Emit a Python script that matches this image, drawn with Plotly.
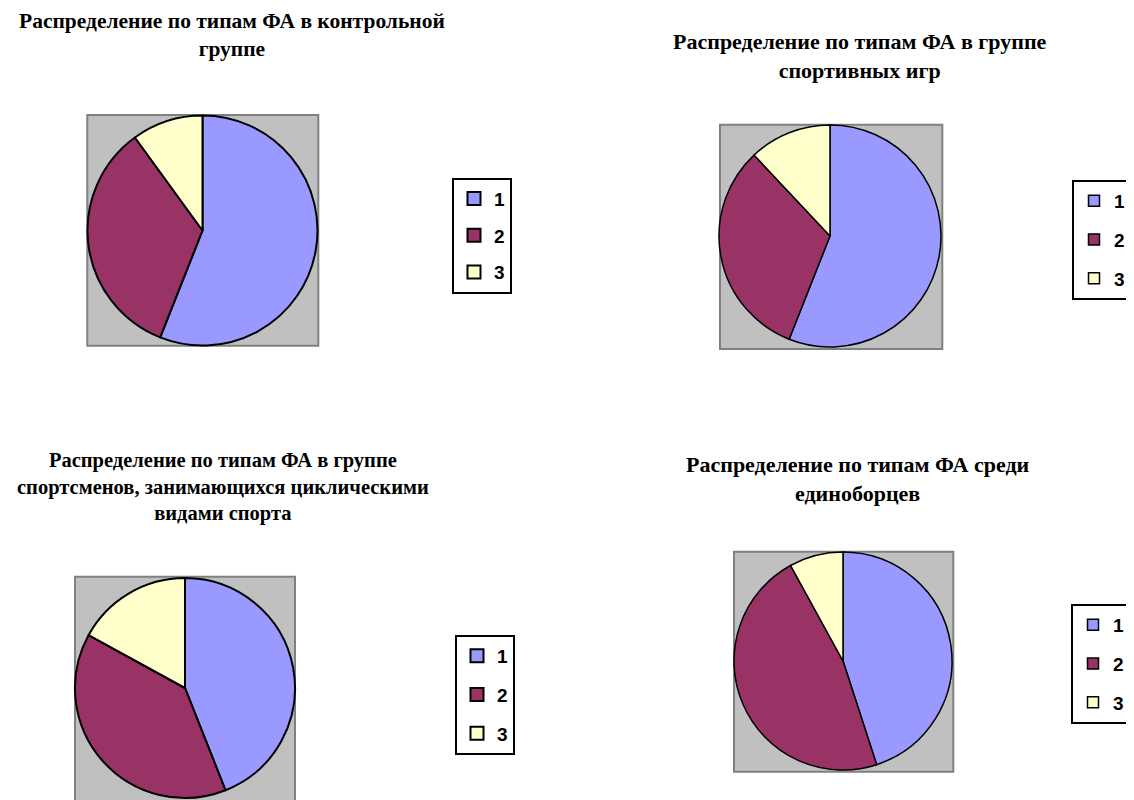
import plotly.graph_objects as go

W, H = 1134, 800
OFF = 8  # page body margin: screen px = layout px + OFF

labels = ["1", "2", "3"]
colors = ["#9999FF", "#993366", "#FFFFCC"]

title_control = "Распределение по типам ФА в контрольной<br>группе"
title_games = "Распределение по типам ФА в группе<br>спортивных игр"
title_cyclic = "Распределение по типам ФА в группе<br>спортсменов, занимающихся циклическими<br>видами спорта"
title_combat = "Распределение по типам ФА среди<br>единоборцев"

values_control = [56, 34, 10]
values_games = [56, 32, 12]
values_cyclic = [44, 39, 17]
values_combat = [45, 47, 8]

# layout in screen pixels: pie box, grey square, legend top-left, title centre/baseline
panels = [
    dict(title=title_control, vals=values_control, leg="legend", lw=2, tfs=21.5,
         pie=(87.5, 317.5, 115.5, 345.5), sq=(87.3, 318.3, 115, 345.7),
         legpos=(452, 177.7), gap=9, msz=13, mlw=2, tpos=(232, 29)),
    dict(title=title_games, vals=values_games, leg="legend2", lw=1.5, tfs=22,
         pie=(719, 941, 125, 347), sq=(720, 942.3, 124.7, 349),
         legpos=(1072, 180), gap=11, msz=11, mlw=1.5, tpos=(860, 49)),
    dict(title=title_cyclic, vals=values_cyclic, leg="legend3", lw=2, tfs=20.5,
         pie=(75, 295, 578, 798), sq=(75, 295, 576.7, 806),
         legpos=(455, 635), gap=11, msz=13, mlw=2, tpos=(223, 467)),
    dict(title=title_combat, vals=values_combat, leg="legend4", lw=1.5, tfs=22,
         pie=(734, 952, 552, 770), sq=(734, 953.3, 551.7, 771.7),
         legpos=(1071, 604), gap=11, msz=11, mlw=1.5, tpos=(858, 472)),
]


def px(x):
    return (x - OFF) / W


def py(y):
    return 1 - (y - OFF) / H


fig = go.Figure()
shapes = []
annotations = []
legend_layouts = {}

for k, p in enumerate(panels):
    x0, x1, yt, yb = p["pie"]
    fig.add_trace(go.Pie(
        labels=labels, values=p["vals"], sort=False, direction="clockwise",
        rotation=0, textinfo="none", hoverinfo="label+value",
        marker=dict(colors=colors, line=dict(color="black", width=p["lw"])),
        domain=dict(x=[px(x0), px(x1)], y=[py(yb), py(yt)]),
        showlegend=False, legendgroup="pie%d" % k,
    ))
    # legend entries (one per category, in this panel's own legend box)
    for lab, col in zip(labels, colors):
        fig.add_trace(go.Scatter(
            x=[None], y=[None], mode="markers", name=lab,
            marker=dict(symbol="square", size=p["msz"], color=col,
                        line=dict(color="black", width=p["mlw"])),
            legend=p["leg"], legendgroup="%s_%s" % (p["leg"], lab),
            showlegend=True, hoverinfo="skip",
        ))
    sx0, sx1, syt, syb = p["sq"]
    shapes.append(dict(type="rect", xref="paper", yref="paper",
                       x0=px(sx0), x1=px(sx1), y0=py(syb), y1=py(syt),
                       fillcolor="#C0C0C0", line=dict(color="#808080", width=2),
                       layer="below"))
    tx, tb = p["tpos"]
    annotations.append(dict(text="<b>" + p["title"] + "</b>", xref="paper", yref="paper",
                            x=px(tx), y=py(tb - p["tfs"]), xanchor="center", yanchor="top",
                            showarrow=False, align="center",
                            font=dict(family="Liberation Serif", size=p["tfs"], color="black")))
    lx, ly = p["legpos"]
    legend_layouts[p["leg"]] = dict(
        x=px(lx), y=py(ly), xanchor="left", yanchor="top",
        bgcolor="white", bordercolor="black", borderwidth=2,
        font=dict(family="Liberation Sans", size=19, color="black", weight="bold"),
        itemwidth=30, traceorder="grouped", tracegroupgap=p["gap"],
        itemclick=False, itemdoubleclick=False,
    )

fig.update_layout(
    width=W, height=H,
    margin=dict(l=0, r=0, t=0, b=0, autoexpand=False),
    paper_bgcolor="white", plot_bgcolor="rgba(0,0,0,0)",
    xaxis=dict(visible=False), yaxis=dict(visible=False),
    shapes=shapes, annotations=annotations,
    **legend_layouts,
)

fig.write_html("out.html")
